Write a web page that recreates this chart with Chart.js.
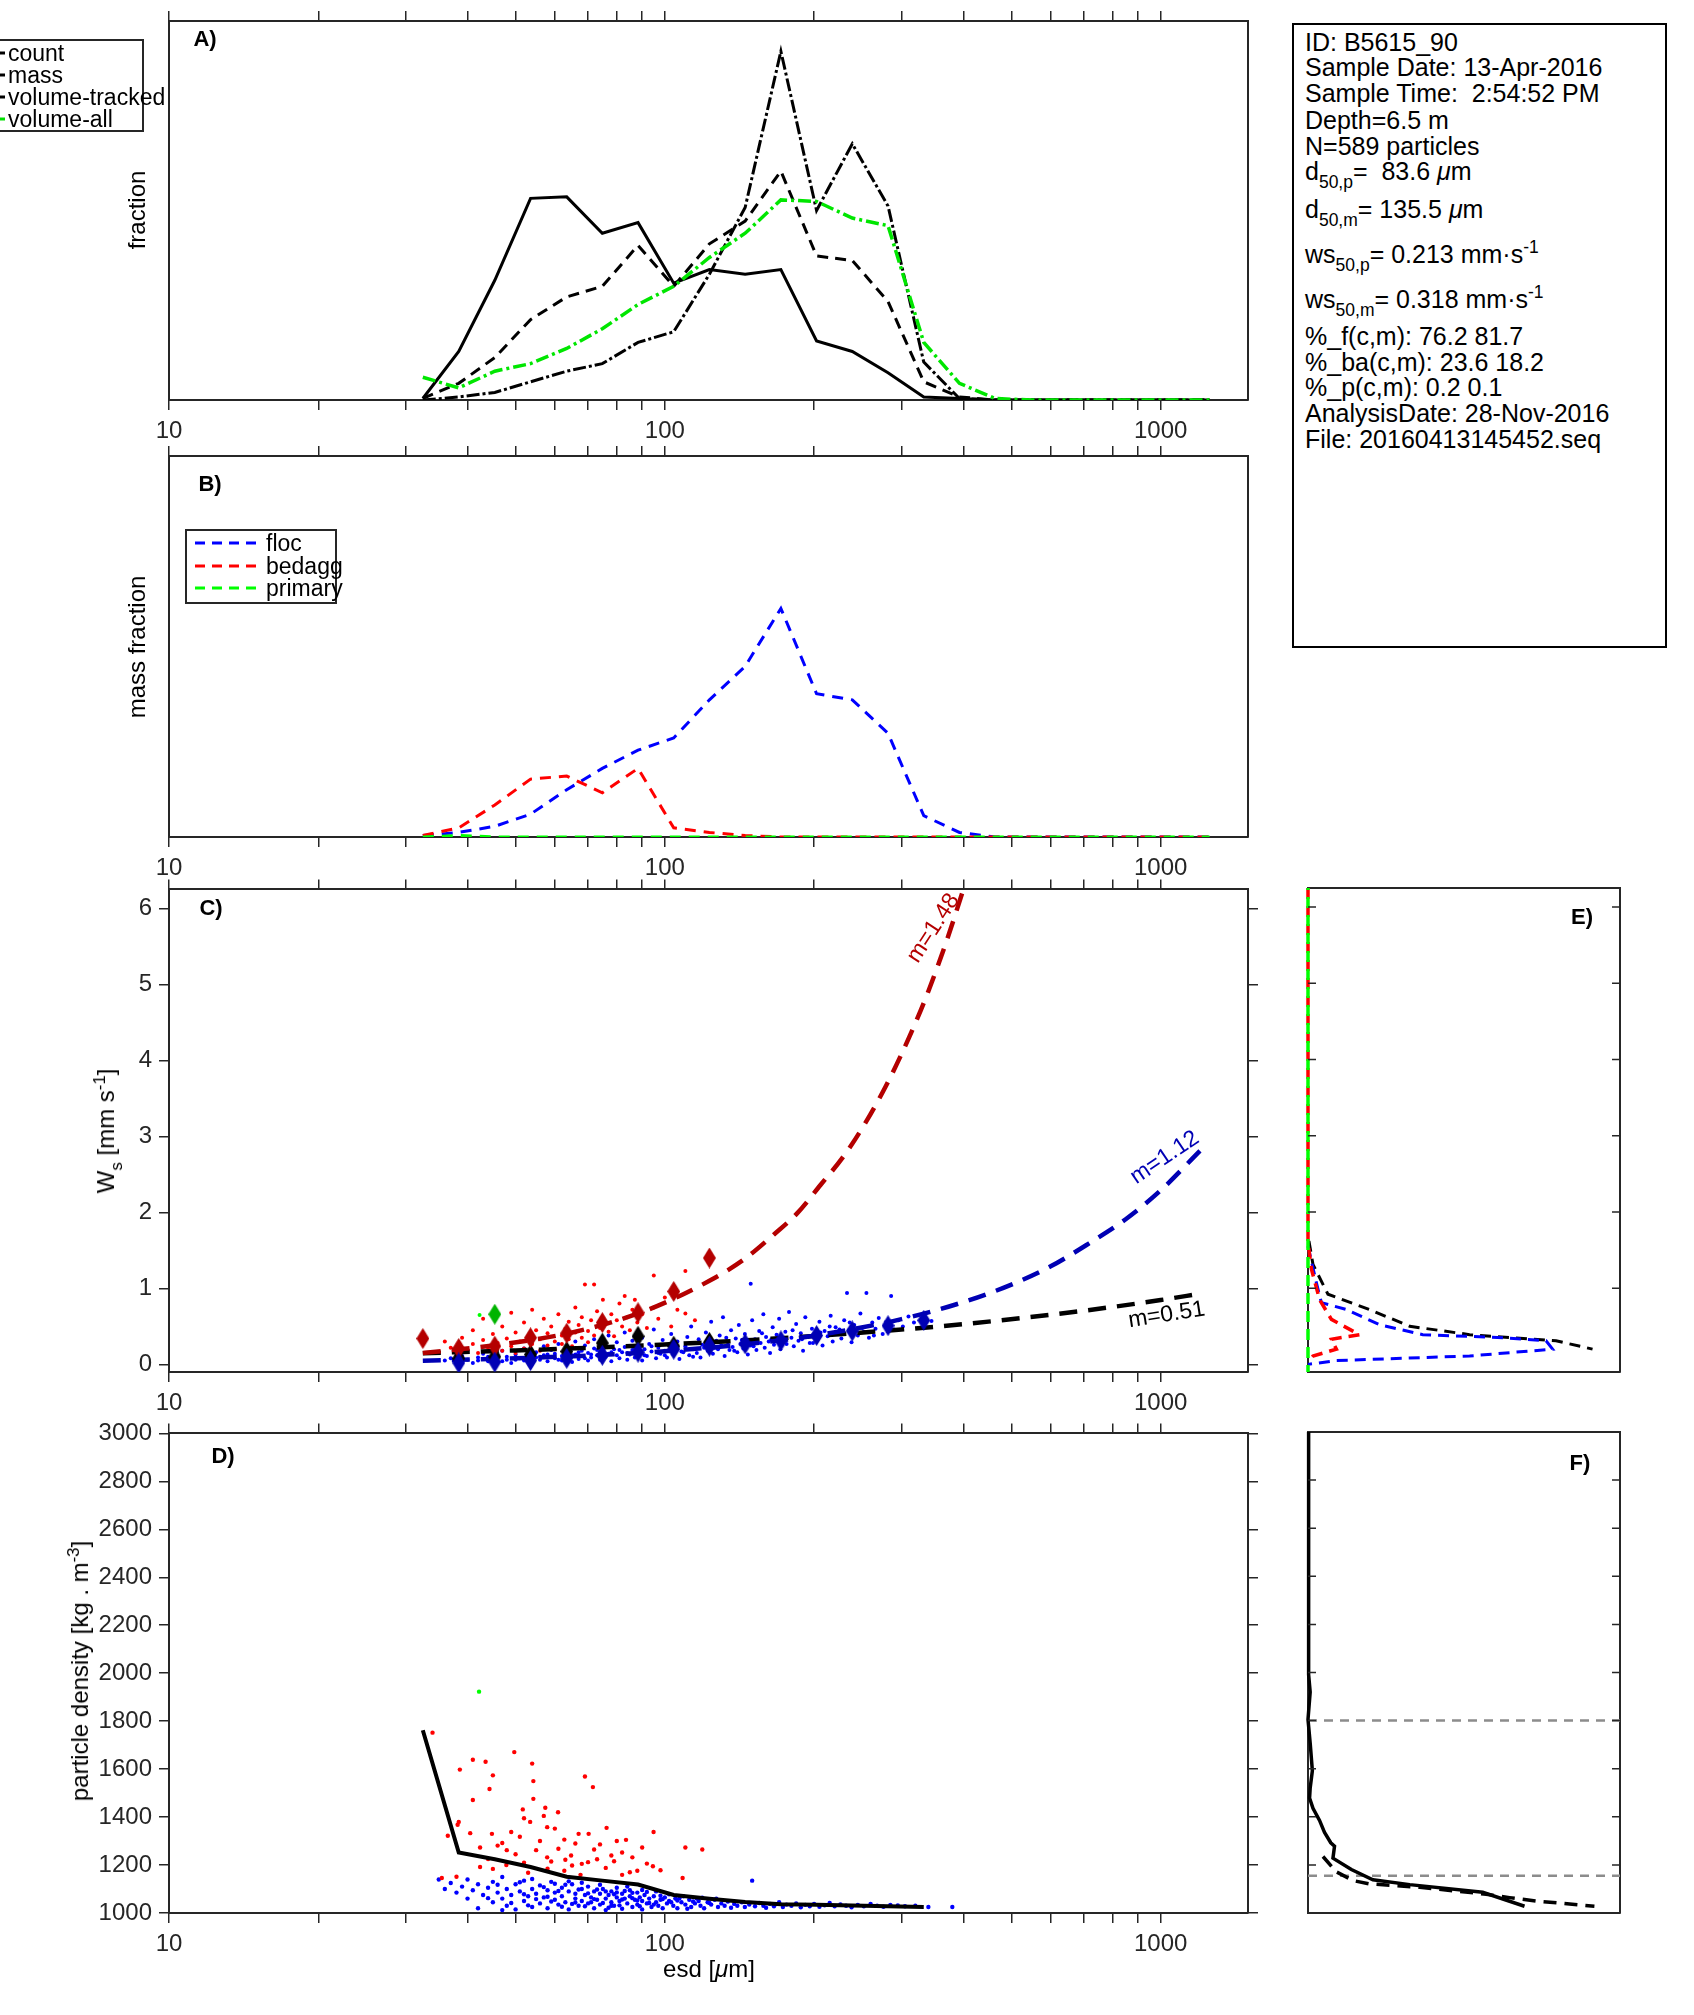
<!DOCTYPE html>
<html>
<head>
<meta charset="utf-8">
<title>B5615_90 particle summary</title>
<script src="https://cdn.jsdelivr.net/npm/chart.js@4.4.1/dist/chart.umd.min.js"></script>
<style>
  body { margin: 0; width: 1694px; height: 2015px; position: relative; overflow: hidden; background: #fff;
         font-family: "Liberation Sans", Arial, Helvetica, sans-serif; color: #000; }
  canvas { position: absolute; }
  .abs { position: absolute; white-space: nowrap; }
  .mid { transform: translate(-50%, -50%); }
  .vert { transform: translate(-50%, -50%) rotate(-90deg); }
  .ttl { font-size: 24px; }
  .tag { font-size: 22px; font-weight: bold; }
  .box { position: absolute; border: 2px solid #262626; box-sizing: border-box; background: #fff; }
  .leg { position: absolute; font-size: 23px; line-height: 22px; white-space: nowrap; }
  .info { position: absolute; left: 1305px; font-size: 25px; line-height: 26px; white-space: nowrap; }
  sub, sup { font-size: 70%; line-height: 0; position: relative; vertical-align: baseline; }
  sub { top: 0.45em; }
  sup { top: -0.55em; }
</style>
</head>
<body>
<canvas id="panelA" width="1264" height="444" style="left:0;top:1px"></canvas>
<canvas id="panelB" width="1264" height="446" style="left:0;top:436px"></canvas>
<canvas id="panelC" width="1264" height="549" style="left:0;top:868px"></canvas>
<canvas id="panelD" width="1264" height="546" style="left:0;top:1412px"></canvas>
<canvas id="panelE" width="336" height="508" style="left:1296px;top:876px"></canvas>
<canvas id="panelF" width="336" height="505" style="left:1296px;top:1420px"></canvas>

<!-- panel tags -->
<div class="abs mid tag" style="left:205px;top:39px">A)</div>
<div class="abs mid tag" style="left:210px;top:484px">B)</div>
<div class="abs mid tag" style="left:211px;top:908px">C)</div>
<div class="abs mid tag" style="left:223px;top:1456px">D)</div>
<div class="abs mid tag" style="left:1582px;top:917px">E)</div>
<div class="abs mid tag" style="left:1580px;top:1463px">F)</div>

<!-- axis titles -->
<div class="abs vert ttl" style="left:137px;top:210px">fraction</div>
<div class="abs vert ttl" style="left:137px;top:647px">mass fraction</div>
<div class="abs vert ttl" style="left:106px;top:1131px">W<sub>s</sub> [mm s<sup>-1</sup>]</div>
<div class="abs vert ttl" style="left:80px;top:1671px">particle density [kg . m<sup>-3</sup>]</div>
<div class="abs mid ttl" style="left:709px;top:1969px">esd [<i>μ</i>m]</div>

<!-- legend A (partly off the page on the left) -->
<div class="box" style="left:-20px;top:39px;width:164px;height:93px"></div>
<svg class="abs" style="left:0;top:39px" width="8" height="93">
  <line x1="0" y1="14" x2="5" y2="14" stroke="#000" stroke-width="3"/>
  <line x1="0" y1="36" x2="5" y2="36" stroke="#000" stroke-width="3"/>
  <line x1="0" y1="58" x2="5" y2="58" stroke="#000" stroke-width="3"/>
  <line x1="0" y1="80" x2="5" y2="80" stroke="#00e000" stroke-width="3"/>
</svg>
<div class="leg" style="left:8px;top:42px">count</div>
<div class="leg" style="left:8px;top:64px">mass</div>
<div class="leg" style="left:8px;top:86px">volume-tracked</div>
<div class="leg" style="left:8px;top:108px">volume-all</div>

<!-- legend B -->
<div class="box" style="left:185px;top:529px;width:152px;height:75px"></div>
<svg class="abs" style="left:195px;top:529px" width="64" height="75">
  <line x1="0" y1="14" x2="62" y2="14" stroke="#0000ff" stroke-width="3" stroke-dasharray="10 7"/>
  <line x1="0" y1="37" x2="62" y2="37" stroke="#ff0000" stroke-width="3" stroke-dasharray="10 7"/>
  <line x1="0" y1="59" x2="62" y2="59" stroke="#00ff00" stroke-width="3" stroke-dasharray="10 7"/>
</svg>
<div class="leg" style="left:266px;top:532px">floc</div>
<div class="leg" style="left:266px;top:555px">bedagg</div>
<div class="leg" style="left:266px;top:577px">primary</div>

<!-- sample info -->
<div class="box" style="left:1292px;top:23px;width:375px;height:625px;border-color:#000"></div>
<div class="info" style="top:29px">ID: B5615_90</div>
<div class="info" style="top:54px">Sample Date: 13-Apr-2016</div>
<div class="info" style="top:80px">Sample Time:&nbsp; 2:54:52 PM</div>
<div class="info" style="top:107px">Depth=6.5 m</div>
<div class="info" style="top:133px">N=589 particles</div>
<div class="info" style="top:158px">d<sub>50,p</sub>=&nbsp; 83.6 <i>μ</i>m</div>
<div class="info" style="top:196px">d<sub>50,m</sub>= 135.5 <i>μ</i>m</div>
<div class="info" style="top:241px">ws<sub>50,p</sub>= 0.213 mm·s<sup>-1</sup></div>
<div class="info" style="top:286px">ws<sub>50,m</sub>= 0.318 mm·s<sup>-1</sup></div>
<div class="info" style="top:323px">%_f(c,m): 76.2 81.7</div>
<div class="info" style="top:349px">%_ba(c,m): 23.6 18.2</div>
<div class="info" style="top:374px">%_p(c,m): 0.2 0.1</div>
<div class="info" style="top:400px">AnalysisDate: 28-Nov-2016</div>
<div class="info" style="top:426px">File: 20160413145452.seq</div>

<script>
// size classes (esd, um)
const binCentres = [32.5, 38.4, 45.4, 53.6, 63.4, 74.8, 88.3, 104.2, 123, 145.2, 171.4, 202.3, 238.8, 281.9, 332.8, 392.8, 463.7, 547.4, 646.2, 762.8, 900.5, 1063, 1255]

// A) distributions
const countFrac = [0.001, 0.032, 0.079, 0.133, 0.134, 0.110, 0.117, 0.077, 0.086, 0.083, 0.086, 0.039, 0.032, 0.018, 0.002, 0.001, 0, 0, 0, 0, 0, 0, 0]
const massFrac = [0.001, 0.011, 0.028, 0.053, 0.068, 0.075, 0.102, 0.075, 0.103, 0.118, 0.151, 0.095, 0.092, 0.065, 0.012, 0.002, 0, 0, 0, 0, 0, 0, 0]
const volTrackedFrac = [0, 0.002, 0.005, 0.012, 0.019, 0.024, 0.038, 0.045, 0.083, 0.127, 0.230, 0.125, 0.169, 0.128, 0.025, 0.001, 0, 0, 0, 0, 0, 0, 0]
const volAllFrac = [0.015, 0.008, 0.019, 0.024, 0.034, 0.047, 0.063, 0.075, 0.094, 0.110, 0.132, 0.131, 0.120, 0.115, 0.038, 0.011, 0.001, 0, 0, 0, 0, 0, 0]

// B) mass fraction by class
const flocFrac = [0.001, 0.003, 0.007, 0.015, 0.031, 0.045, 0.057, 0.065, 0.090, 0.112, 0.150, 0.094, 0.090, 0.068, 0.014, 0.003, 0, 0, 0, 0, 0, 0, 0]
const bedaggFrac = [0.001, 0.006, 0.021, 0.038, 0.040, 0.029, 0.045, 0.006, 0.003, 0.001, 0, 0, 0, 0, 0, 0, 0, 0, 0, 0, 0, 0, 0]
const primaryFrac = [0, 0.001, 0, 0, 0, 0, 0, 0, 0, 0, 0, 0, 0, 0, 0, 0, 0, 0, 0, 0, 0, 0, 0]

// C) settling velocity, binned medians
const wsFlocMed = [0.02, 0.03, 0.05, 0.08, 0.12, 0.16, 0.20, 0.24, 0.27, 0.31, 0.38, 0.44, 0.51, 0.58]
const wsBedaggMed = [0.34, 0.21, 0.24, 0.35, 0.41, 0.55, 0.68, 0.96, 1.40]
const wsAllMed = [0.08, 0.10, 0.13, 0.17, 0.28, 0.37, 0.24, 0.29]
const wsPrimaryMed = [0.66]

// C) fitted curves (read along the dashed lines)
const fitBedaggD = [32.5, 45, 65, 90, 123, 145, 166, 185, 206, 230, 255, 280, 300, 320, 340, 370, 400]
const fitBedaggWs = [0.15, 0.25, 0.42, 0.69, 1.10, 1.39, 1.71, 1.99, 2.36, 2.75, 3.20, 3.68, 4.08, 4.49, 4.91, 5.57, 6.25]
const fitFlocD = [32.5, 50, 75, 100, 150, 200, 300, 400, 500, 600, 716, 850, 1000, 1200]
const fitFlocWs = [0.049, 0.080, 0.126, 0.174, 0.274, 0.378, 0.595, 0.82, 1.05, 1.29, 1.59, 1.91, 2.29, 2.81]
const fitAllD = [32.5, 50, 75, 100, 150, 200, 300, 400, 600, 800, 1000, 1200]
const fitAllWs = [0.148, 0.184, 0.226, 0.262, 0.322, 0.373, 0.459, 0.53, 0.653, 0.756, 0.847, 0.93]
const fitLabels = [
  { text: "m=1.48", d: 348, ws: 5.74, angle: -57, color: "#b40000" },
  { text: "m=1.12", d: 1019, ws: 2.72, angle: -34, color: "#0000b4" },
  { text: "m=0.51", d: 1028, ws: 0.65, angle: -9, color: "#000000" }
]

// C) single particles [esd, ws]
const wsFlocDots = [
  [36,0.05],[37,0.08],[38,0.03],[39,0.11],[40,0.06],[41,0.02],[42,0.09],[43,0.14],[44,0.04],[45,0.07],
  [46,0.12],[46,0.03],[47,0.18],[48,0.06],[48,0.10],[49,0.02],[50,0.13],[51,0.08],[52,0.21],[52,0.05],
  [53,0.11],[54,0.03],[55,0.16],[55,0.09],[56,0.06],[57,0.24],[57,0.12],[58,0.04],[59,0.19],[60,0.08],
  [60,0.14],[61,0.27],[62,0.05],[62,0.11],[63,0.17],[64,0.09],[64,0.22],[65,0.03],[66,0.13],[66,0.30],
  [67,0.07],[68,0.18],[68,0.11],[69,0.25],[70,0.05],[70,0.15],[71,0.09],[72,0.21],[72,0.33],[73,0.12],
  [74,0.06],[74,0.17],[75,0.26],[76,0.10],[77,0.14],[77,0.38],[78,0.04],[79,0.20],[80,0.12],[80,0.29],
  [81,0.08],[82,0.16],[83,0.23],[83,0.42],[84,0.06],[85,0.13],[86,0.19],[86,0.31],[87,0.09],[88,0.25],
  [89,0.15],[90,0.05],[90,0.35],[91,0.20],[92,0.11],[93,0.27],[94,0.17],[95,0.46],[96,0.08],[97,0.22],
  [98,0.14],[99,0.32],[100,0.18],[101,0.09],[102,0.26],[103,0.40],[104,0.13],[105,0.21],[106,0.30],[107,0.07],
  [108,0.17],[110,0.24],[111,0.36],[112,0.12],[113,0.50],[114,0.20],[115,0.28],[116,0.15],[117,0.33],[118,0.09],
  [120,0.22],[121,0.42],[122,0.18],[123,0.27],[124,0.56],[125,0.14],[127,0.31],[128,0.20],[129,0.38],[130,0.25],
  [131,0.62],[132,0.11],[134,0.29],[135,0.19],[136,0.45],[137,0.23],[139,0.34],[140,0.16],[141,0.52],[142,0.27],
  [144,0.21],[145,0.40],[146,0.30],[147,0.13],[149,1.06],[149,0.25],[150,0.58],[152,0.33],[153,0.19],[155,0.44],
  [156,0.28],[158,0.66],[159,0.22],[160,0.36],[162,0.30],[163,0.15],[165,0.49],[166,0.26],[168,0.39],[170,0.60],
  [171,0.20],[173,0.32],[175,0.43],[176,0.27],[178,0.69],[180,0.35],[182,0.24],[184,0.53],[186,0.31],[188,0.41],
  [190,0.18],[192,0.62],[194,0.36],[196,0.28],[198,0.47],[200,0.39],[203,0.33],[205,0.56],[208,0.25],[210,0.44],
  [213,0.37],[216,0.64],[218,0.30],[221,0.49],[224,0.40],[227,0.34],[230,0.58],[233,0.94],[235,0.45],[238,0.29],
  [241,0.52],[245,0.38],[248,0.67],[252,0.43],[255,0.94],[258,0.35],[262,0.55],[266,0.47],[270,0.61],[275,0.40],
  [280,0.53],[286,0.90],[290,0.46],[296,0.58],[302,0.50],[310,0.63],[318,0.55],[330,0.60],[345,0.57],
  [39,0.04],[42,0.05],[44,0.10],[47,0.04],[50,0.06],[53,0.07],[56,0.10],[58,0.13],[61,0.06],[63,0.10],
  [65,0.12],[67,0.16],[69,0.08],[71,0.13],[73,0.19],[75,0.08],[78,0.16],[81,0.19],[84,0.15],[87,0.20],
  [91,0.12],[94,0.24],[97,0.15],[100,0.12],[104,0.28],[109,0.16],[114,0.10],[119,0.26],[126,0.22],[133,0.35],
  [138,0.18],[143,0.32],[151,0.24],[157,0.41],[164,0.33],[172,0.26],[181,0.45],[189,0.33],[199,0.28],[206,0.42],
  [215,0.50],[225,0.46],[236,0.55],[250,0.48],[264,0.38]
]
const wsBedaggDots = [
  [35,0.16],[36,0.30],[37,0.22],[38,0.12],[39,0.35],[40,0.19],[41,0.27],[41,0.45],[42,0.15],[43,0.32],
  [43,0.60],[44,0.22],[45,0.40],[45,0.12],[46,0.28],[47,0.50],[47,0.18],[48,0.34],[49,0.24],[49,0.68],
  [50,0.42],[50,0.15],[51,0.30],[52,0.55],[52,0.21],[53,0.37],[54,0.27],[54,0.72],[55,0.45],[56,0.18],
  [56,0.33],[57,0.60],[58,0.25],[58,0.41],[59,0.50],[60,0.30],[60,0.20],[61,0.66],[62,0.38],[62,0.27],
  [63,0.47],[64,0.56],[64,0.33],[65,0.24],[66,0.42],[66,0.75],[67,0.52],[68,0.35],[68,0.62],[69,1.05],
  [70,0.44],[70,0.29],[71,0.58],[72,1.05],[72,0.38],[73,0.70],[74,0.48],[75,0.32],[75,0.85],[76,0.55],
  [77,0.43],[78,0.66],[79,0.37],[80,0.58],[81,0.80],[82,0.50],[83,0.90],[84,0.62],[85,0.45],[86,0.72],
  [87,0.85],[88,0.55],[90,0.66],[92,0.48],[95,1.17],[95,0.75],[97,0.60],[100,0.88],[103,0.50],[106,0.72],
  [110,0.67],[110,1.23],[115,0.58]
]
const wsPrimaryDots = [[42.3, 0.65]]

// D) particle density [esd, rho]
const rhoMed = [1762, 1252, 1224, 1192, 1151, 1135, 1119, 1075, 1059, 1046, 1037, 1034, 1031, 1028, 1025]
const rhoFlocDots = [
  [35,1140],[36,1100],[37,1125],[38,1085],[39,1110],[40,1060],[40,1140],[41,1095],[42,1020],[42,1120],
  [43,1075],[44,1105],[45,1045],[45,1130],[46,1085],[47,1060],[47,1150],[48,1100],[48,1030],[49,1075],
  [50,1120],[50,1015],[51,1090],[52,1050],[52,1135],[53,1070],[54,1100],[54,1025],[55,1080],[56,1115],
  [56,1040],[57,1065],[58,1095],[58,1020],[59,1130],[60,1055],[60,1085],[61,1035],[62,1105],[62,1070],
  [63,1045],[64,1090],[64,1015],[65,1120],[66,1060],[66,1080],[67,1030],[68,1100],[68,1050],[69,1075],
  [70,1040],[70,1110],[71,1065],[72,1020],[72,1090],[73,1055],[74,1080],[74,1035],[75,1100],[76,1060],
  [76,1012],[77,1075],[78,1045],[78,1090],[79,1030],[80,1065],[80,1105],[81,1050],[82,1080],[82,1018],
  [83,1060],[84,1040],[85,1095],[85,1070],[86,1025],[87,1055],[88,1085],[88,1035],[89,1065],[90,1015],
  [90,1050],[91,1075],[92,1040],[93,1060],[94,1025],[95,1070],[96,1045],[97,1030],[98,1055],[99,1020],
  [100,1065],[101,1040],[102,1050],[104,1030],[105,1060],[106,1020],[108,1045],[110,1035],[112,1055],[113,1025],
  [115,1040],[117,1050],[118,1030],[120,1020],[122,1045],[124,1035],[126,1055],[128,1025],[130,1040],[132,1030],
  [134,1048],[136,1022],[138,1038],[140,1030],[143,1045],[145,1025],[148,1035],[150,1135],[152,1028],[155,1042],
  [158,1030],[160,1022],[163,1038],[166,1028],[170,1045],[173,1025],[176,1035],[180,1030],[184,1040],[188,1024],
  [192,1034],[196,1028],[200,1038],[205,1026],[210,1032],[215,1042],[220,1028],[226,1036],[232,1030],[238,1024],
  [245,1034],[252,1028],[260,1038],[268,1030],[276,1026],[285,1034],[295,1032],[305,1028],[320,1030],[340,1025],
  [380,1025],[44,1062],[46,1118],[49,1042],[51,1128],[53,1032],[55,1058],[57,1108],[59,1048],[61,1092],
  [63,1118],[65,1038],[67,1098],[69,1028],[71,1045],[73,1098],[75,1042],[77,1022],[79,1078],[81,1032],
  [83,1092],[86,1062],[89,1028],[92,1088],[95,1035],[98,1072],[103,1045],[107,1062],[111,1018],[116,1060],
  [47,1012],[52,1078],[54,1142],[58,1068],[60,1122],[62,1026],[64,1132],[66,1044],[68,1126],[70,1082],
  [72,1058],[74,1118],[76,1090],[78,1030],[80,1086],[82,1056],[84,1110],[86,1084],[88,1052],[90,1096],
  [93,1042],[96,1090],[99,1058],[102,1078],[106,1052],[109,1070],[114,1048],[119,1064],[123,1042],[127,1060]
]
const rhoBedaggDots = [
  [34,1752],[38.4,1380],[38.2,1368],[41,1639],[43.5,1631],[38.6,1598],[45,1574],[49.7,1671],[54,1623],[54.3,1550],
  [69,1569],[71.6,1525],[44.3,1517],[41,1471],[54.3,1476],[51.7,1432],[57.4,1439],[60.9,1420],[52,1395],[53.5,1380],
  [57.9,1358],[76.3,1355],[94.9,1338],[70.2,1330],[83.5,1305],[62.7,1306],[49,1338],[44.8,1330],[40.5,1333],[36.5,1322],
  [42.4,1273],[46,1281],[57.9,1232],[64.7,1240],[73,1224],[90,1273],[110,1273],[119,1265],[42.4,1192],[45,1184],
  [47.9,1200],[62.7,1176],[67.6,1159],[82,1159],[88,1176],[94.6,1195],[108.6,1146],[35.5,1146],[38,1151],[50,1245],
  [55,1262],[59,1215],[66,1290],[68,1205],[72,1265],[78,1240],[80,1300],[85,1170],[47,1292],[52,1210],
  [44,1225],[48,1262],[51,1318],[53,1168],[56,1300],[58,1185],[61,1268],[63,1222],[65,1198],[67,1330],
  [70,1212],[74,1286],[76,1188],[79,1216],[82,1252],[86,1232],[92,1206],[98,1178],[57,1405],[60,1352]
]
const rhoPrimaryDots = [[42.2, 1923]]

// E) ws distributions (fraction, ws)
const eFlocFrac = [0, 0.027, 0.043, 0.123, 0.23, 0.368, 0.624, 0.763, 0.784, 0.518, 0.304, 0.091, 0]
const eFlocWs = [1.55, 1.07, 0.81, 0.72, 0.52, 0.39, 0.35, 0.31, 0.2, 0.11, 0.08, 0.05, 0]
const eBedaggFrac = [0, 0, 0.011, 0.037, 0.075, 0.165, 0.075, 0.091, 0.016, 0]
const eBedaggWs = [6.25, 1.6, 1.25, 0.85, 0.59, 0.39, 0.33, 0.2, 0.11, 0.04]
const eAllFrac = [0.003, 0.016, 0.064, 0.197, 0.261, 0.326, 0.518, 0.795, 0.912]
const eAllWs = [1.62, 1.31, 0.92, 0.72, 0.61, 0.5, 0.39, 0.31, 0.2]
const ePrimaryFrac = [0, 0]
const ePrimaryWs = [6.25, -0.1]

// F) density distributions (fraction, rho)
const fCountFrac = [0.002, 0.002, 0.007, 0, 0.007, 0.014, 0.007, 0.005, 0.016, 0.037, 0.053, 0.073, 0.085, 0.08, 0.139, 0.208, 0.326, 0.56, 0.694]
const fCountRho = [3000, 1991, 1919, 1805, 1706, 1592, 1520, 1478, 1435, 1385, 1335, 1292, 1278, 1228, 1181, 1138, 1118, 1086, 1028]
const fMassFrac = [0.048, 0.091, 0.144, 0.197, 0.358, 0.571, 0.646, 0.731, 0.918]
const fMassRho = [1235, 1171, 1135, 1121, 1107, 1078, 1064, 1050, 1028]
const rhoThresholds = [1800, 1155]

// axes
const xMin = 10
const xMax = 1500
const xTickValues = [10, 20, 30, 40, 50, 60, 70, 80, 90, 100, 200, 300, 400, 500, 600, 700, 800, 900, 1000]
const xTickLabels = [10, 100, 1000]
const wsTicks = [0, 1, 2, 3, 4, 5, 6]
const rhoTicks = [1000, 1200, 1400, 1600, 1800, 2000, 2200, 2400, 2600, 2800, 3000]
const rhoInnerTicks = [1200, 1400, 1600, 1800, 2000, 2200, 2400, 2600, 2800]

const axisColor = "#262626"
Chart.defaults.font.family = '"Liberation Sans", Arial, sans-serif'
Chart.defaults.font.size = 24
Chart.defaults.color = axisColor

const pts = (xs, ys) => xs.map((x, i) => ({ x, y: ys[i] }))
const pairs = arr => arr.map(([x, y]) => ({ x, y }))

const diamond = (color, w, h) => {
    const c = document.createElement("canvas")
    c.width = w
    c.height = h
    const g = c.getContext("2d")
    g.fillStyle = color
    g.beginPath()
    g.moveTo(w / 2, 0)
    g.lineTo(w, h / 2)
    g.lineTo(w / 2, h)
    g.lineTo(0, h / 2)
    g.closePath()
    g.fill()
    return c
}

const line = (data, color, width, dash, more = {}) => ({
    data, showLine: true, borderColor: color, borderWidth: width, borderDash: dash,
    pointRadius: 0, tension: 0, ...more
})
const dots = (data, color, r) => ({
    data, showLine: false, pointRadius: r, pointBorderWidth: 0, borderWidth: 0,
    backgroundColor: color, pointBackgroundColor: color
})
const marks = (data, img) => ({ data, showLine: false, pointStyle: img, pointRadius: 6, borderWidth: 0 })

const fixSize = size => s => {
    if (s.isHorizontal()) s.height = size
    else s.width = size
}

const logX = (position, size, labels) => ({
    type: "logarithmic", position, min: xMin, max: xMax,
    afterBuildTicks: s => { s.ticks = xTickValues.map(value => ({ value })) },
    afterFit: fixSize(size),
    grid: { drawOnChartArea: false, tickLength: 10, color: axisColor, lineWidth: 1.5 },
    border: { color: axisColor, width: 2 },
    ticks: {
        display: labels, autoSkip: false, maxRotation: 0, minRotation: 0, padding: 7,
        callback: v => xTickLabels.includes(v) ? String(v) : ""
    }
})

const linAxis = (position, size, min, max, tickVals, labels) => ({
    type: "linear", position, min, max,
    afterBuildTicks: s => { s.ticks = (tickVals || [min, max]).map(value => ({ value })) },
    afterFit: fixSize(size),
    grid: { display: !!tickVals, drawOnChartArea: false, tickLength: 10, color: axisColor, lineWidth: 1.5 },
    border: { color: axisColor, width: 2 },
    ticks: { display: labels, padding: 7, autoSkip: false, callback: v => String(v) }
})

const innerTicks = {
    id: "innerTicks",
    afterDraw(chart, args, opts) {
        if (!opts.values) return
        const { ctx, chartArea: a, scales } = chart
        ctx.save()
        ctx.strokeStyle = axisColor
        ctx.lineWidth = 1.5
        opts.values.forEach(v => {
            const py = scales.y.getPixelForValue(v)
            ctx.beginPath()
            ctx.moveTo(a.left, py)
            ctx.lineTo(a.left + 8, py)
            ctx.moveTo(a.right, py)
            ctx.lineTo(a.right - 8, py)
            ctx.stroke()
        })
        ctx.restore()
    }
}

const slopeText = {
    id: "slopeText",
    afterDatasetsDraw(chart, args, opts) {
        if (!opts.labels) return
        const { ctx, scales } = chart
        opts.labels.forEach(l => {
            ctx.save()
            ctx.translate(scales.x.getPixelForValue(l.d), scales.y.getPixelForValue(l.ws))
            ctx.rotate(l.angle * Math.PI / 180)
            ctx.fillStyle = l.color
            ctx.font = '23px "Liberation Sans", Arial, sans-serif'
            ctx.textAlign = "center"
            ctx.textBaseline = "middle"
            ctx.fillText(l.text, 0, 0)
            ctx.restore()
        })
    }
}

const makePanel = (id, datasets, scales, pluginOpts = {}) => {
    const n = datasets.length
    return new Chart(document.getElementById(id), {
        type: "scatter",
        data: { datasets: datasets.map((d, i) => ({ ...d, order: n - i })) },
        options: {
            responsive: false,
            animation: false,
            devicePixelRatio: 1,
            layout: { padding: 0 },
            plugins: { legend: { display: false }, tooltip: { enabled: false }, ...pluginOpts },
            scales
        },
        plugins: [innerTicks, slopeText]
    })
}

const leftScales = (yMin, yMax, yTicks, yLabels) => ({
    x: logX("bottom", 45, true),
    x2: logX("top", 20, false),
    y: linAxis("left", 169, yMin, yMax, yTicks, yLabels),
    y2: linAxis("right", 16, yMin, yMax, yTicks, false)
})

const sideScales = (yMin, yMax) => ({
    x: linAxis("bottom", 12, 0, 1, null, false),
    x2: linAxis("top", 12, 0, 1, null, false),
    y: linAxis("left", 12, yMin, yMax, null, false),
    y2: linAxis("right", 12, yMin, yMax, null, false)
})

// A
makePanel("panelA", [
    line(pts(binCentres, countFrac), "#000", 3, []),
    line(pts(binCentres, massFrac), "#000", 3, [11, 7]),
    line(pts(binCentres, volTrackedFrac), "#000", 3, [13, 3, 3, 3]),
    line(pts(binCentres, volAllFrac), "#00e600", 3.5, [13, 4, 3, 4])
], leftScales(0, 0.25, null, false))

// B
makePanel("panelB", [
    line(pts(binCentres, flocFrac), "#0000ff", 3, [11, 8]),
    line(pts(binCentres, bedaggFrac), "#ff0000", 3, [11, 8]),
    line(pts(binCentres, primaryFrac), "#00ff00", 3, [11, 8])
], leftScales(0, 0.25, null, false))

// C
makePanel("panelC", [
    dots(pairs(wsFlocDots), "#0000ff", 2),
    dots(pairs(wsBedaggDots), "#ff0000", 2),
    dots(pairs(wsPrimaryDots), "#00ff00", 2),
    line(pts(fitAllD, fitAllWs), "#000", 4.5, [18, 11], { cubicInterpolationMode: "monotone" }),
    line(pts(fitFlocD, fitFlocWs), "#0000b4", 4.5, [18, 11], { cubicInterpolationMode: "monotone" }),
    line(pts(fitBedaggD, fitBedaggWs), "#b40000", 4.5, [18, 11], { cubicInterpolationMode: "monotone" }),
    marks(pts(binCentres.slice(1, 9), wsAllMed), diamond("#000", 13, 21)),
    marks(pts(binCentres.slice(0, 9), wsBedaggMed), diamond("#b40000", 13, 21)),
    marks(pts(binCentres.slice(1, 15), wsFlocMed), diamond("#0000b4", 13, 21)),
    marks(pts([45.4], wsPrimaryMed), diamond("#00b400", 13, 21))
], leftScales(-0.1, 6.25, wsTicks, true), { slopeText: { labels: fitLabels } })

// D
makePanel("panelD", [
    dots(pairs(rhoFlocDots), "#0000ff", 2.2),
    dots(pairs(rhoBedaggDots), "#ff0000", 2.2),
    dots(pairs(rhoPrimaryDots), "#00ff00", 2.2),
    line(pts(binCentres.slice(0, 15), rhoMed), "#000", 4, [])
], leftScales(1000, 3000, rhoTicks, true))

// E
makePanel("panelE", [
    line(pts(eAllFrac, eAllWs), "#000", 3, [11, 7], { clip: false }),
    line(pts(eFlocFrac, eFlocWs), "#0000ff", 3, [11, 7], { clip: false }),
    line(pts(eBedaggFrac, eBedaggWs), "#ff0000", 3.5, [11, 7], { clip: false }),
    line(pts(ePrimaryFrac, ePrimaryWs), "#00ff00", 3.5, [11, 7], { clip: false, borderDashOffset: 9 })
], sideScales(-0.1, 6.25), { innerTicks: { values: [1, 2, 3, 4, 5, 6] } })

// F
makePanel("panelF", [
    line(pts([0, 1], [rhoThresholds[0], rhoThresholds[0]]), "#8c8c8c", 2.5, [9, 7]),
    line(pts([0, 1], [rhoThresholds[1], rhoThresholds[1]]), "#8c8c8c", 2.5, [9, 7]),
    line(pts(fMassFrac, fMassRho), "#000", 3.5, [13, 8], { clip: false }),
    line(pts(fCountFrac, fCountRho), "#000", 3.5, [], { clip: false })
], sideScales(1000, 3000), { innerTicks: { values: rhoInnerTicks } })
</script>
</body>
</html>
